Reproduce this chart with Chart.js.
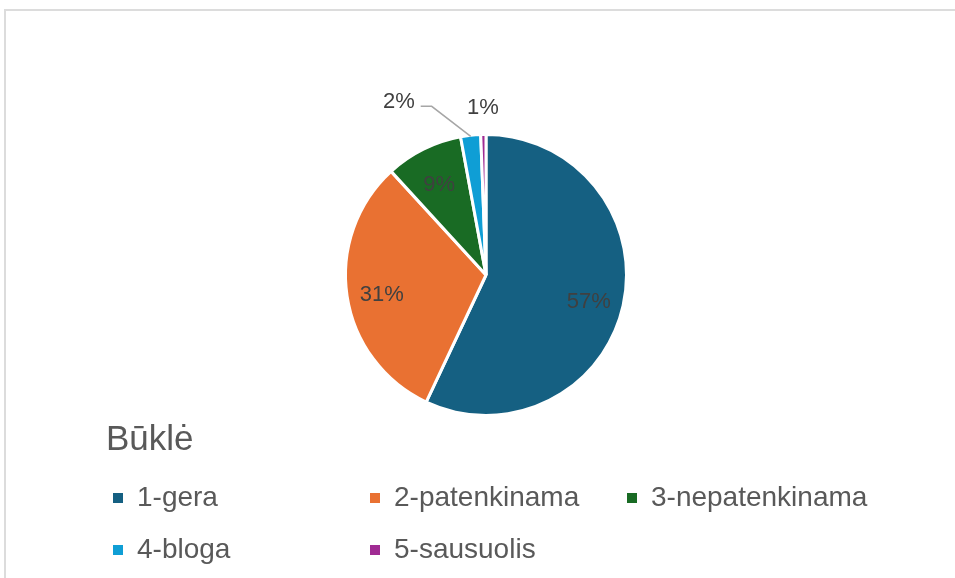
<!DOCTYPE html>
<html>
<head>
<meta charset="utf-8">
<script src="https://cdn.jsdelivr.net/npm/chart.js@4.4.1/dist/chart.umd.min.js"></script>
<style>
  html, body { margin: 0; padding: 0; background: #fff; overflow: hidden; }
  body { width: 955px; height: 578px; position: relative; font-family: 'Liberation Sans', Arial, sans-serif; }
  .ramas { position: absolute; left: 4px; top: 9px; width: 1000px; height: 700px; border-top: 2px solid #dcdcdc; border-left: 2px solid #dcdcdc; }
  #wrap { position: absolute; left: 0; top: 0; width: 955px; height: 578px; }
  #pavadinimas { position: absolute; left: 106px; top: 420px; font-size: 35px; line-height: 35px; color: #595959; white-space: nowrap; }
  #legenda { position: absolute; left: 113px; top: 483px; display: grid; grid-template-columns: 257px 257px 257px; row-gap: 25px; }
  .irasas { display: flex; align-items: center; height: 27px; font-size: 28px; line-height: 27px; color: #595959; white-space: nowrap; }
  .kvadratas { width: 10px; height: 10px; margin-right: 14px; flex: none; position: relative; top: 1px; }
</style>
</head>
<body>
<div class="ramas"></div>
<div id="wrap"><canvas id="chartBukle" width="955" height="578"></canvas></div>
<div id="pavadinimas">Būklė</div>
<div id="legenda"></div>
<script>
const kategorijos = ['1-gera', '2-patenkinama', '3-nepatenkinama', '4-bloga', '5-sausuolis'];
const reiksmes = [57.0, 31.2, 8.9, 2.3, 0.6];
const spalvos = ['#156082', '#E97132', '#196B24', '#0F9ED5', '#A02B93'];
const legendosPavadinimas = 'Būklė';

document.getElementById('pavadinimas').innerText = legendosPavadinimas;

const legenda = document.getElementById('legenda');
kategorijos.forEach((k, i) => {
    const el = document.createElement('div');
    el.className = 'irasas';
    el.innerHTML = `<span class="kvadratas" style="background:${spalvos[i]}"></span><span>${k}</span>`;
    legenda.appendChild(el);
});

// procentu etiketes
const etiketes = {
    id: 'etiketes',
    afterDatasetsDraw(chart) {
        const ctx = chart.ctx;
        const meta = chart.getDatasetMeta(0);
        const suma = reiksmes.reduce((a, b) => a + b, 0);
        ctx.save();
        ctx.font = '22px "Liberation Sans", Arial, sans-serif';
        ctx.fillStyle = '#404040';
        ctx.textBaseline = 'middle';
        meta.data.forEach((arc, i) => {
            const p = arc.getProps(['x', 'y', 'startAngle', 'endAngle', 'outerRadius'], true);
            const vid = (p.startAngle + p.endAngle) / 2;
            const cos = Math.cos(vid), sin = Math.sin(vid);
            const tekstas = Math.round(reiksmes[i] / suma * 100) + '%';
            const dalis = reiksmes[i] / suma;
            if (dalis >= 0.05) {
                const r = p.outerRadius * 0.75;
                ctx.textAlign = 'center';
                ctx.fillText(tekstas, p.x + cos * r, p.y + sin * r + 4);
            } else if (dalis >= 0.015) {
                // su nuorodos linija
                const ax = p.x + cos * (p.outerRadius - 1);
                const ay = p.y + sin * (p.outerRadius - 1);
                const lx = ax - 39, ly = ay - 30;
                ctx.strokeStyle = '#a6a6a6';
                ctx.lineWidth = 1.5;
                ctx.beginPath();
                ctx.moveTo(ax, ay);
                ctx.lineTo(lx, ly);
                ctx.lineTo(lx - 11, ly);
                ctx.stroke();
                ctx.textAlign = 'right';
                ctx.fillText(tekstas, lx - 17, ly - 4);
            } else {
                const r = p.outerRadius + 27;
                ctx.textAlign = 'center';
                ctx.fillText(tekstas, p.x + cos * r, p.y + sin * r);
            }
        });
        ctx.restore();
    }
};

const ctxBukle = document.getElementById('chartBukle').getContext('2d');
const chartBukle = new Chart(ctxBukle, {
    type: 'pie',
    data: {
        labels: kategorijos,
        datasets: [{
            data: reiksmes,
            backgroundColor: spalvos,
            borderColor: '#ffffff',
            borderWidth: 3
        }]
    },
    options: {
        responsive: false,
        animation: false,
        layout: { padding: { top: 133, bottom: 161, left: 344, right: 327 } },
        plugins: {
            legend: { display: false },
            tooltip: { enabled: false }
        }
    },
    plugins: [etiketes]
});
</script>
</body>
</html>
